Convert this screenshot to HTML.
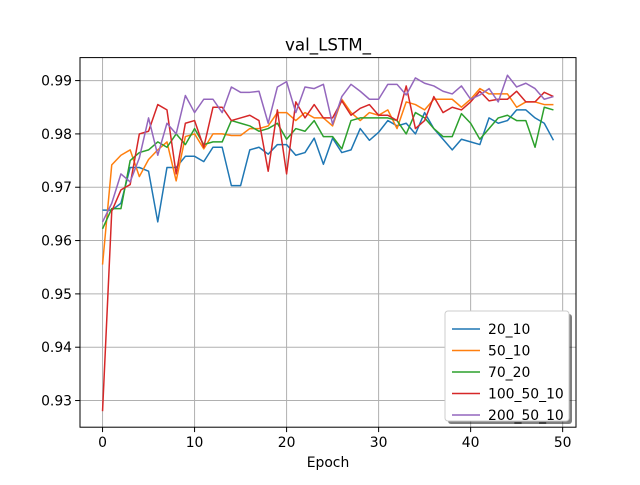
<!DOCTYPE html>
<html><head><meta charset="utf-8"><style>
body{margin:0;background:#fff;}
svg text{font-family:"DejaVu Sans","Liberation Sans",sans-serif;}
</style></head><body>
<svg id="chart" width="640" height="480" xmlns="http://www.w3.org/2000/svg">
<rect width="640" height="480" fill="#fff"/>
<g id="grid"></g><g id="series"></g><g id="axes"></g><g id="legend"></g>
</svg>
<script>
const epochs = Array.from({length:50},(_,i)=>i);
const s20_10 = [0.9657,0.9657,0.967,0.9737,0.9737,0.973,0.9635,0.9737,0.9737,0.9758,0.9758,0.9748,0.9775,0.9775,0.9703,0.9703,0.977,0.9775,0.9762,0.978,0.978,0.976,0.9765,0.9792,0.9743,0.9792,0.9765,0.977,0.981,0.9788,0.9803,0.9825,0.9815,0.982,0.980,0.984,0.981,0.979,0.977,0.979,0.9785,0.978,0.983,0.982,0.9825,0.9845,0.9845,0.983,0.982,0.9788];
const s50_10 = [0.9555,0.9742,0.976,0.977,0.972,0.9752,0.977,0.9785,0.9712,0.9795,0.980,0.9772,0.980,0.980,0.9797,0.9797,0.981,0.981,0.9815,0.984,0.984,0.9825,0.984,0.983,0.983,0.9815,0.9865,0.984,0.9825,0.984,0.9835,0.9845,0.981,0.986,0.9855,0.9845,0.9865,0.9865,0.9865,0.985,0.9865,0.9885,0.9875,0.9875,0.9875,0.985,0.986,0.986,0.9855,0.9855];
const s70_20 = [0.9622,0.966,0.966,0.975,0.9765,0.977,0.9785,0.9775,0.980,0.978,0.981,0.978,0.9785,0.9785,0.9825,0.982,0.9815,0.9805,0.981,0.982,0.979,0.981,0.9805,0.9825,0.9795,0.9795,0.9772,0.9825,0.983,0.983,0.983,0.983,0.9825,0.980,0.984,0.983,0.981,0.9795,0.9795,0.9838,0.982,0.979,0.981,0.983,0.9835,0.9825,0.9825,0.9775,0.985,0.9845];
const s100_50_10 = [0.928,0.9655,0.9695,0.9705,0.980,0.9805,0.9855,0.9845,0.9725,0.982,0.9825,0.9775,0.985,0.985,0.9825,0.983,0.9835,0.9825,0.973,0.9845,0.9725,0.986,0.983,0.9855,0.983,0.983,0.9862,0.9835,0.9848,0.9855,0.9835,0.9835,0.9825,0.989,0.981,0.9825,0.987,0.984,0.985,0.9845,0.986,0.988,0.9862,0.9865,0.9865,0.988,0.986,0.986,0.9878,0.987];
const s200_50_10 = [0.9635,0.967,0.9725,0.971,0.9755,0.983,0.976,0.982,0.980,0.9872,0.984,0.9865,0.9865,0.984,0.9888,0.9878,0.9878,0.988,0.982,0.9888,0.9898,0.984,0.9888,0.9885,0.9893,0.9818,0.987,0.9893,0.988,0.9865,0.9865,0.9893,0.9893,0.9873,0.9905,0.9895,0.989,0.988,0.9875,0.989,0.9865,0.9873,0.9885,0.986,0.991,0.9888,0.9895,0.9885,0.9865,0.987];
const seriesNames = ["20_10","50_10","70_20","100_50_10","200_50_10"];
const xTicks = [0,10,20,30,40,50];
const yTicks = [0.93,0.94,0.95,0.96,0.97,0.98,0.99];
const allSeries=[s20_10,s50_10,s70_20,s100_50_10,s200_50_10];
const colors=["#1f77b4","#ff7f0e","#2ca02c","#d62728","#9467bd"];
const L=80,R=576,T=57.6,B=427.2;
const xmin=-2.45,xmax=51.45,ymin=0.925,ymax=0.99431;
const X=v=>L+(v-xmin)/(xmax-xmin)*(R-L);
const Y=v=>B-(v-ymin)/(ymax-ymin)*(B-T);
const NS="http://www.w3.org/2000/svg";
function mk(tag,attrs,parent,text){const e=document.createElementNS(NS,tag);for(const k in attrs)e.setAttribute(k,attrs[k]);if(text!==undefined)e.textContent=text;parent.appendChild(e);return e;}
const grid=document.getElementById('grid'),ser=document.getElementById('series'),ax=document.getElementById('axes'),lg=document.getElementById('legend');
xTicks.forEach(t=>{const l=mk('line',{x1:X(t),x2:X(t),y1:T,y2:B,stroke:'#b0b0b0','stroke-width':1},grid);

});
yTicks.forEach(t=>{const l=mk('line',{x1:L,x2:R,y1:Y(t),y2:Y(t),stroke:'#b0b0b0','stroke-width':1},grid);

});
allSeries.forEach((s,i)=>{const p=mk('polyline',{points:s.map((v,j)=>X(epochs[j])+','+Y(v)).join(' '),fill:'none',stroke:colors[i],'stroke-width':1.5,'stroke-linejoin':'round'},ser);

});
const fr=mk('rect',{x:L,y:T,width:R-L,height:B-T,fill:'none',stroke:'#000','stroke-width':1},ax);


xTicks.forEach(t=>{mk('line',{x1:X(t),x2:X(t),y1:B,y2:B+4.9,stroke:'#000','stroke-width':1},ax);
const tx=mk('text',{x:X(t),y:B+20,'font-size':13.9,'text-anchor':'middle'},ax,String(t));

});
yTicks.forEach(t=>{mk('line',{x1:L-4.9,x2:L,y1:Y(t),y2:Y(t),stroke:'#000','stroke-width':1},ax);
const tx=mk('text',{x:L-8,y:Y(t)+5,'font-size':13.9,'text-anchor':'end'},ax,t.toFixed(2));

});
const xt=mk('text',{x:(L+R)/2,y:B+40,'font-size':13.9,'text-anchor':'middle'},ax,'Epoch');


const tt=mk('text',{x:(L+R)/2,y:T-7,'font-size':16.7,'text-anchor':'middle'},ax,'val_LSTM_');


mk('rect',{x:448,y:314,width:124,height:110,fill:'#000','fill-opacity':0.5,rx:3},lg);
const box=mk('rect',{x:445,y:311,width:124,height:110,fill:'#fff',stroke:'#ccc','stroke-width':1,rx:3},lg);


seriesNames.forEach((n,i)=>{const y=329+i*21.5;
mk('line',{x1:452,x2:480,y1:y,y2:y,stroke:colors[i],'stroke-width':1.5},lg);
const tx=mk('text',{x:488,y:y+5,'font-size':13.9},lg,n);

});
</script>
</body></html>
